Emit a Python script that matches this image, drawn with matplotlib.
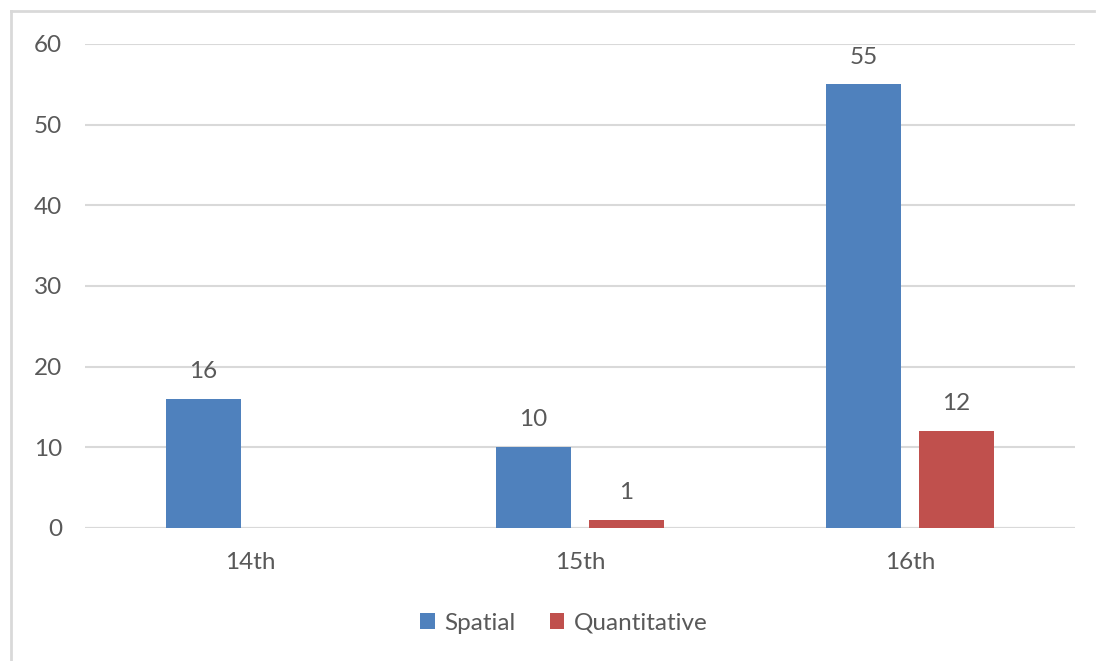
import matplotlib
matplotlib.use("Agg")
import matplotlib.pyplot as plt
from matplotlib.lines import Line2D
import numpy as np

categories = ["14th", "15th", "16th"]
spatial = [16, 10, 55]
quantitative = [0, 1, 12]
series_names = ["Spatial", "Quantitative"]
yticks = [0, 10, 20, 30, 40, 50, 60]

plt.rcParams['font.family'] = ['Lato', 'DejaVu Sans']
text_color = "#595959"
blue = "#4F81BD"
red = "#C0504D"
grid_color = "#D9D9D9"
fs = 17.5

fig = plt.figure(figsize=(10.99, 6.61), dpi=100)
ax = fig.add_axes([85/1099, 133/661, 990/1099, 484/661])

x = np.arange(len(categories))
w = 0.227
off = 0.141
b1 = ax.bar(x - off, spatial, w, color=blue, label=series_names[0], zorder=3)
b2 = ax.bar(x + off, quantitative, w, color=red, label=series_names[1], zorder=3)

for bars, vals in ((b1, spatial), (b2, quantitative)):
    for rect, v in zip(bars, vals):
        if v == 0:
            continue
        ax.annotate(str(v), (rect.get_x() + rect.get_width()/2, v),
                    xytext=(0, 15), textcoords="offset points",
                    ha="center", va="baseline", fontsize=fs, color=text_color)

ax.set_xlim(-0.5, len(categories) - 0.5)
ax.set_ylim(0, 60)
ax.set_yticks(yticks)
ax.set_xticks(x)
ax.set_xticklabels(categories)
ax.yaxis.grid(True, color=grid_color, linewidth=1.5, zorder=0)
ax.set_axisbelow(True)
for s in ax.spines.values():
    s.set_visible(False)
ax.axhline(0, color=grid_color, linewidth=1.5, zorder=2)
ax.tick_params(axis='both', length=0, labelsize=fs, labelcolor=text_color)
ax.tick_params(axis='y', pad=16.5)
ax.tick_params(axis='x', pad=17)

leg = fig.legend(handles=[b1, b2], labels=series_names, loc="center",
                 bbox_to_anchor=(564/1099, 1 - 623/661), ncol=2, frameon=False,
                 fontsize=fs, handlelength=0.6, handleheight=0.6,
                 handletextpad=0.4, columnspacing=1.4)
for t in leg.get_texts():
    t.set_color(text_color)

# outer frame (left and top)
fig.add_artist(Line2D([11/1099, 11/1099], [0, 1 - 11/661], transform=fig.transFigure,
                      color=grid_color, linewidth=2))
fig.add_artist(Line2D([11/1099, 1094/1099], [1 - 11/661, 1 - 11/661], transform=fig.transFigure,
                      color=grid_color, linewidth=2))

fig.savefig("out.png", dpi=100)
